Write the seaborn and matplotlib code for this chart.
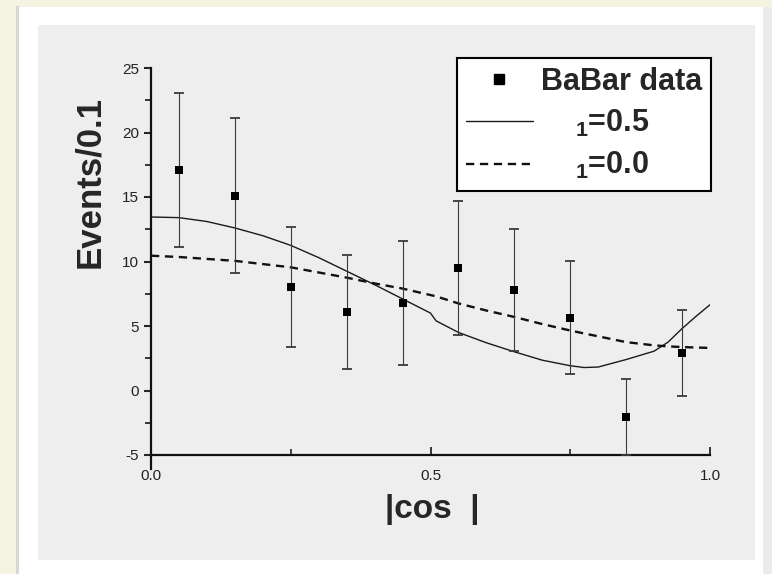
import numpy as np
import pandas as pd
import matplotlib
matplotlib.use("Agg")
import matplotlib.pyplot as plt
import seaborn as sns
from matplotlib.patches import Rectangle
from matplotlib.lines import Line2D
from matplotlib.ticker import MultipleLocator

# Binned angular distribution (bin centres, events per 0.1, symmetric errors)
bin_centres = [0.05, 0.15, 0.25, 0.35, 0.45, 0.55, 0.65, 0.75, 0.85, 0.95]
events = [17.1, 15.1, 8.0, 6.1, 6.8, 9.5, 7.8, 5.65, -2.05, 2.9]
errors = [5.95, 6.0, 4.65, 4.4, 4.8, 5.2, 4.7, 4.4, 2.95, 3.35]

# Model curves sampled along |cos|
curve_x = [0.00, 0.05, 0.10, 0.15, 0.20, 0.25, 0.30, 0.35, 0.40, 0.45, 0.50,
           0.51, 0.55, 0.60, 0.65, 0.70, 0.75, 0.775, 0.80, 0.85, 0.90, 0.925,
           0.95, 0.975, 1.00]
curve_05 = [13.45, 13.4, 13.1, 12.6, 12.0, 11.25, 10.3, 9.25, 8.2, 7.1, 6.0,
            5.4, 4.5, 3.7, 3.0, 2.35, 1.92, 1.78, 1.82, 2.4, 3.05, 3.75,
            4.8, 5.75, 6.65]
curve_00 = [10.45, 10.35, 10.2, 10.05, 9.8, 9.55, 9.15, 8.75, 8.3, 7.9, 7.4,
            7.3, 6.75, 6.2, 5.7, 5.15, 4.65, 4.42, 4.2, 3.75, 3.5, 3.42,
            3.37, 3.33, 3.3]

legend_labels = ["BaBar data", "    ${}_{1}$=0.5", "    ${}_{1}$=0.0"]
x_ticks = [0.0, 0.5, 1.0]
x_tick_labels = ["0.0", "0.5", "1.0"]

curves = pd.DataFrame({"cos": curve_x, "a05": curve_05, "a00": curve_00})
points = pd.DataFrame({"cos": bin_centres, "events": events, "err": errors})

sns.set_style("ticks")
plt.rcParams["font.family"] = ["Liberation Sans", "DejaVu Sans"]
plt.rcParams["axes.unicode_minus"] = False
plt.rcParams["mathtext.fontset"] = "custom"
plt.rcParams["mathtext.rm"] = "Liberation Sans:bold"
plt.rcParams["mathtext.it"] = "Liberation Sans:bold"
plt.rcParams["mathtext.bf"] = "Liberation Sans:bold"

W, H = 772, 574
fig = plt.figure(figsize=(W / 100, H / 100), dpi=100)
fig.patch.set_facecolor("#f4f3e2")

# slide-style framing: shadow, white card, grey panel
fig.add_artist(Rectangle((16 / W, 0), 4 / W, 1 - 6 / H, transform=fig.transFigure,
                         facecolor="#d9d9d2", edgecolor="none", zorder=0))
fig.add_artist(Rectangle((19 / W, 0), 744 / W, 1 - 7 / H, transform=fig.transFigure,
                         facecolor="white", edgecolor="none", zorder=0))
fig.add_artist(Rectangle((763 / W, 0), 9 / W, 1 - 7 / H, transform=fig.transFigure,
                         facecolor="#ebebeb", edgecolor="none", zorder=0))
fig.add_artist(Rectangle((38 / W, 14 / H), 717 / W, 535 / H, transform=fig.transFigure,
                         facecolor="#eeeeee", edgecolor="none", zorder=0))

ax = fig.add_axes([151 / W, 1 - 455 / H, 559 / W, 387 / H])
ax.set_facecolor("none")

sns.lineplot(data=curves, x="cos", y="a05", ax=ax, color="#1a1a1a", lw=1.0,
             estimator=None, sort=False)
sns.lineplot(data=curves, x="cos", y="a00", ax=ax, color="#111111", lw=1.7,
             estimator=None, sort=False, linestyle=(0, (3.5, 2.4)))
ax.errorbar(points["cos"], points["events"], yerr=points["err"], fmt="none",
            ecolor="#3a3a3a", elinewidth=0.8, capsize=3.5, capthick=1.3, zorder=3)
sns.scatterplot(data=points, x="cos", y="events", ax=ax, marker="s", s=30,
                color="black", edgecolor="black", linewidth=0, zorder=5)

ax.set_xlim(0, 1)
ax.set_ylim(-5, 25)
ax.set_xticks(x_ticks)
ax.set_xticklabels(x_tick_labels)
ax.xaxis.set_minor_locator(MultipleLocator(0.25))
ax.yaxis.set_major_locator(MultipleLocator(5))
ax.yaxis.set_minor_locator(MultipleLocator(2.5))

ax.tick_params(axis="x", which="major", direction="in", length=6, width=1.3,
               pad=10, labelsize=11, labelcolor="#222222")
ax.tick_params(axis="x", which="minor", direction="in", length=4, width=1.2)
ax.tick_params(axis="y", which="major", direction="out", length=5, width=1.5,
               pad=3.5, labelsize=11, labelcolor="#222222")
ax.tick_params(axis="y", which="minor", direction="out", length=4, width=1.3)

for side in ("top", "right"):
    ax.spines[side].set_visible(False)
for side in ("left", "bottom"):
    ax.spines[side].set_linewidth(1.6)
    ax.spines[side].set_color("#111111")
ax.spines["left"].set_bounds(-6.1, 25)

ax.set_xlabel("|cos  |", fontsize=24, fontweight="bold")
ax.xaxis.set_label_coords(0.503, -0.142)
ax.xaxis.label.set_va("center")
ax.set_ylabel("Events/0.1", fontsize=25, fontweight="bold")
ax.yaxis.set_label_coords(-0.109, 0.705)
ax.yaxis.label.set_va("center")

handles = [
    Line2D([], [], marker="s", ls="none", color="black", markersize=7.5),
    Line2D([], [], color="#1a1a1a", lw=1.0),
    Line2D([], [], color="#111111", lw=1.7, ls=(0, (3.5, 2.4))),
]
leg = ax.legend(handles, legend_labels, loc="upper right",
                bbox_to_anchor=(711 / W, 1 - 58 / H), bbox_transform=fig.transFigure,
                prop=dict(family="Liberation Sans", weight="bold", size=22),
                frameon=True, fancybox=False, edgecolor="black", facecolor="white",
                framealpha=1, borderpad=0.3, labelspacing=0.36, handlelength=2.2,
                handletextpad=0.25, borderaxespad=0)
leg.get_frame().set_linewidth(1.5)

fig.savefig("out.png", dpi=100, facecolor=fig.get_facecolor())
